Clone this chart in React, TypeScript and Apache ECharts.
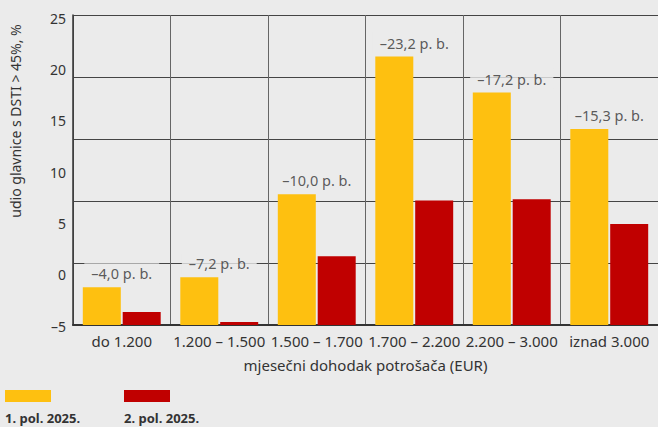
import React, { useEffect, useRef } from "react";
import * as echarts from "echarts";

const categories = ["do 1.200", "1.200 – 1.500", "1.500 – 1.700", "1.700 – 2.200", "2.200 – 3.000", "iznad 3.000"];
const firstHalf = [6.1, 7.7, 21.1, 43.3, 37.5, 31.6];
const secondHalf = [2.1, 0.5, 11.1, 20.1, 20.3, 16.3];
const diffLabels = ["–4,0 p. b.", "–7,2 p. b.", "–10,0 p. b.", "–23,2 p. b.", "–17,2 p. b.", "–15,3 p. b."];
const seriesNames = ["1. pol. 2025.", "2. pol. 2025."];
const tickMin = -5;
const tickMax = 25;
const tickStep = 5;

const FONT = "'Noto Sans', 'Open Sans', sans-serif";
const BG = "#ebebeb";
const YELLOW = "#fec010";
const RED = "#c00000";
const TEXT = "#333333";

export default function App() {
  const ref = useRef<HTMLDivElement>(null);
  useEffect(() => {
    document.body.style.margin = "0";
    document.body.style.background = BG;
    const chart = echarts.init(ref.current!, null, { renderer: "svg" });
    chart.setOption({
      animation: false,
      backgroundColor: BG,
      textStyle: { fontFamily: FONT },
      grid: [
        { left: 73, right: -5, top: 15, bottom: 102, containLabel: false },
        { left: 73, right: -5, top: 18, bottom: 101, containLabel: false },
      ],
      xAxis: [
        {
          type: "category",
          gridIndex: 0,
          data: categories,
          axisTick: { show: false },
          axisLine: { show: true, lineStyle: { color: "#333", width: 2 } },
          axisLabel: { color: TEXT, fontSize: 15, margin: 8, fontFamily: FONT, interval: 0 },
          splitLine: { show: true, lineStyle: { color: "#666", width: 1 } },
          name: "mjesečni dohodak potrošača (EUR)",
          nameLocation: "middle",
          nameGap: 32,
          nameTextStyle: { color: TEXT, fontSize: 15, fontFamily: FONT },
        },
        { type: "category", gridIndex: 1, data: categories, show: false },
      ],
      yAxis: [
        {
          type: "value",
          gridIndex: 0,
          min: 0,
          max: 50,
          interval: 10,
          axisLabel: { show: false },
          axisTick: { show: false },
          axisLine: { show: true, lineStyle: { color: "#333", width: 1.5 } },
          splitLine: { show: true, lineStyle: { color: "#444", width: 1 } },
        },
        {
          type: "value",
          gridIndex: 1,
          min: tickMin,
          max: tickMax,
          interval: tickStep,
          axisLine: { show: false },
          axisTick: { show: false },
          splitLine: { show: false },
          axisLabel: {
            color: TEXT,
            fontSize: 14,
            margin: 7,
            fontFamily: FONT,
            formatter: (v: number) => (v < 0 ? "–" + Math.abs(v) : String(v)),
          },
        },
      ],
      series: [
        {
          name: seriesNames[0],
          type: "bar",
          xAxisIndex: 0,
          yAxisIndex: 0,
          data: firstHalf,
          barWidth: 38,
          barGap: "5%",
          itemStyle: { color: YELLOW },
          z: 3,
        },
        {
          name: seriesNames[1],
          type: "bar",
          xAxisIndex: 0,
          yAxisIndex: 0,
          data: secondHalf,
          barWidth: 38,
          barGap: "5%",
          itemStyle: { color: RED },
          z: 3,
        },
        {
          type: "scatter",
          xAxisIndex: 0,
          yAxisIndex: 0,
          data: firstHalf,
          symbolSize: 0,
          silent: true,
          z: 5,
          label: {
            show: true,
            position: "top",
            distance: 4,
            formatter: (p: any) => diffLabels[p.dataIndex],
            color: TEXT,
            fontSize: 14.5,
            fontFamily: FONT,
            backgroundColor: BG,
            padding: [2, 7],
            lineHeight: 16,
          },
        },
      ],
      graphic: [
        {
          type: "text",
          x: 15,
          y: 121,
          rotation: Math.PI / 2,
          style: {
            text: "udio glavnice s DSTI > 45%, %",
            fill: TEXT,
            font: `14px ${FONT}`,
            align: "center",
            verticalAlign: "middle",
          },
        },
        { type: "rect", shape: { x: 5, y: 390, width: 46, height: 12 }, style: { fill: YELLOW } },
        { type: "rect", shape: { x: 124, y: 390, width: 46, height: 12 }, style: { fill: RED } },
        {
          type: "text",
          x: 5,
          y: 418,
          style: { text: seriesNames[0], fill: TEXT, font: `bold 13px ${FONT}`, verticalAlign: "middle" },
        },
        {
          type: "text",
          x: 124,
          y: 418,
          style: { text: seriesNames[1], fill: TEXT, font: `bold 13px ${FONT}`, verticalAlign: "middle" },
        },
      ],
    });
    return () => chart.dispose();
  }, []);
  return <div ref={ref} style={{ width: 658, height: 427 }} />;
}
